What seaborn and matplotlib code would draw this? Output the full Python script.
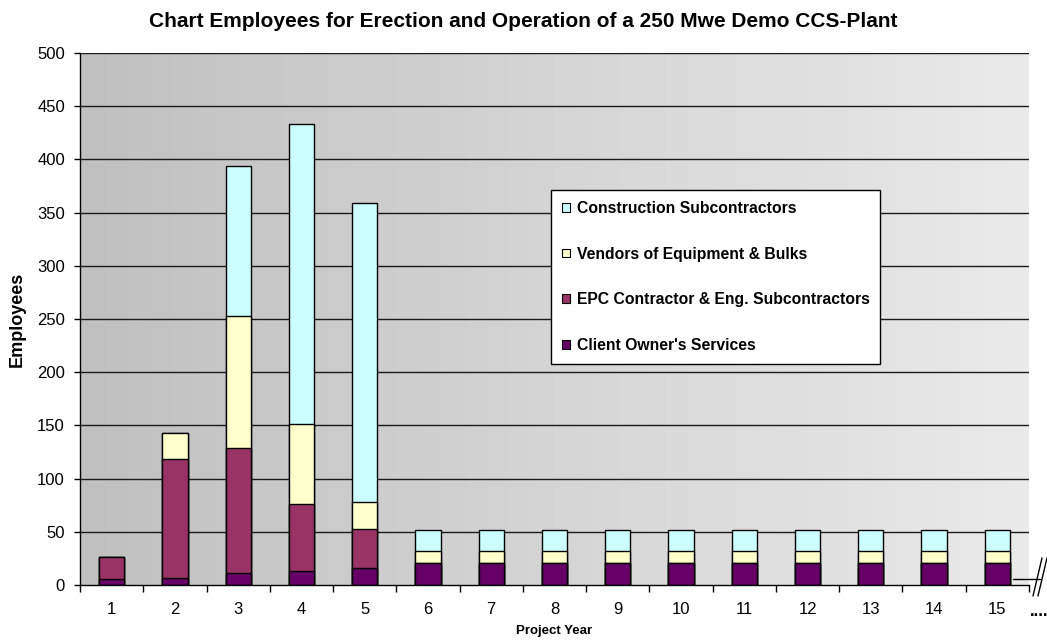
import numpy as np
import pandas as pd
import matplotlib
matplotlib.use("Agg")
import matplotlib.pyplot as plt
from matplotlib.patches import Patch
from matplotlib.lines import Line2D
import seaborn as sns

# Staffing per project year
years = [str(y) for y in range(1, 16)]
client_owner = [6, 7, 11, 13, 16, 21, 21, 21, 21, 21, 21, 21, 21, 21, 21]
epc_contractor = [20, 111, 118, 63, 37, 0, 0, 0, 0, 0, 0, 0, 0, 0, 0]
vendors = [0, 25, 124, 75, 25, 11, 11, 11, 11, 11, 11, 11, 11, 11, 11]
construction = [0, 0, 141, 282, 281, 20, 20, 20, 20, 20, 20, 20, 20, 20, 20]

series_names = ["Client Owner's Services",
                "EPC Contractor & Eng. Subcontractors",
                "Vendors of Equipment & Bulks",
                "Construction Subcontractors"]
series_colors = ["#660066", "#993366", "#FFFFCC", "#CCFFFF"]

sns.set_style("white")
plt.rcParams["font.family"] = ["Liberation Sans", "DejaVu Sans"]
plt.rcParams["text.color"] = "black"
plt.rcParams["axes.labelcolor"] = "black"
plt.rcParams["xtick.color"] = "black"
plt.rcParams["ytick.color"] = "black"

df = pd.DataFrame({"year": years,
                   series_names[0]: client_owner,
                   series_names[1]: epc_contractor,
                   series_names[2]: vendors,
                   series_names[3]: construction})
cum = df[series_names].cumsum(axis=1)

fig = plt.figure(figsize=(10.47, 6.44), dpi=100)
ax = fig.add_axes([80 / 1047, 1 - 585 / 644, 949 / 1047, 532 / 644])

# Horizontal grey gradient behind the plot area
grad = np.linspace(0, 1, 256).reshape(1, -1)
cmap = matplotlib.colors.LinearSegmentedColormap.from_list("bg", ["#c0c0c0", "#eaeaea"])
ax.imshow(grad, cmap=cmap, aspect="auto", extent=(-0.5, 14.5, 0, 500), zorder=0)

for v in range(50, 501, 50):
    ax.axhline(v, color="#1a1a1a", lw=1.0, zorder=1)

# Stacked bars: draw cumulative totals from the top layer down
for name, color in zip(series_names[::-1], series_colors[::-1]):
    sns.barplot(x=df["year"], y=cum[name], color=color, width=0.4,
                edgecolor="black", linewidth=1.0, saturation=1, ax=ax, zorder=2)

ax.set_xlim(-0.5, 14.5)
ax.set_ylim(0, 500)
ax.set_yticks(range(0, 501, 50))
ax.tick_params(axis="y", length=4.3, width=1, labelsize=12, pad=6.5,
               direction="out", left=True)
ax.set_xticks(range(15))
ax.set_xticklabels(years)
ax.tick_params(axis="x", length=0, labelsize=12, pad=12)
ax.set_xticks(np.arange(-0.5, 15, 1), minor=True)
ax.tick_params(axis="x", which="minor", length=5, width=1, direction="out", bottom=True)

for side in ["top", "right"]:
    ax.spines[side].set_visible(False)
for side in ["left", "bottom"]:
    ax.spines[side].set_color("black")
    ax.spines[side].set_linewidth(1.0)
ax.spines["left"].set_zorder(3)

ax.set_xlabel("Project Year", fontsize=9.5, fontweight="bold", labelpad=6)
ax.set_ylabel("Employees", fontsize=13, fontweight="bold", labelpad=8)
fig.suptitle("Chart Employees for Erection and Operation of a 250 Mwe Demo CCS-Plant",
             x=0.5, y=0.982, fontsize=15, fontweight="bold")

handles = [Patch(facecolor=c, edgecolor="black", linewidth=0.8)
           for c in series_colors[::-1]]
leg = ax.legend(handles, series_names[::-1], loc="upper left",
                bbox_to_anchor=(0.496, (585 - 190) / 532), frameon=True, fancybox=False,
                edgecolor="black", framealpha=1, facecolor="white",
                prop={"size": 11.3, "weight": "bold"}, handlelength=0.5,
                handleheight=0.5, handletextpad=0.45, labelspacing=1.95,
                borderpad=0.7, borderaxespad=0)
leg.get_frame().set_linewidth(1.0)
leg.set_zorder(5)

# Axis-break marker past the last year
def px(x, y):
    return (x / 1047, 1 - y / 644)

for seg in [((1013, 579), (1040, 579)),
            ((1033, 596), (1042, 558)),
            ((1038, 596), (1047, 558))]:
    (x0, y0), (x1, y1) = px(*seg[0]), px(*seg[1])
    fig.add_artist(Line2D([x0, x1], [y0, y1], transform=fig.transFigure,
                          color="black", lw=1.0))
fig.text(1039 / 1047, 1 - 612 / 644, "....", ha="center", va="center",
         fontsize=12, fontweight="bold")

fig.savefig("out.png", dpi=100, facecolor="white")
